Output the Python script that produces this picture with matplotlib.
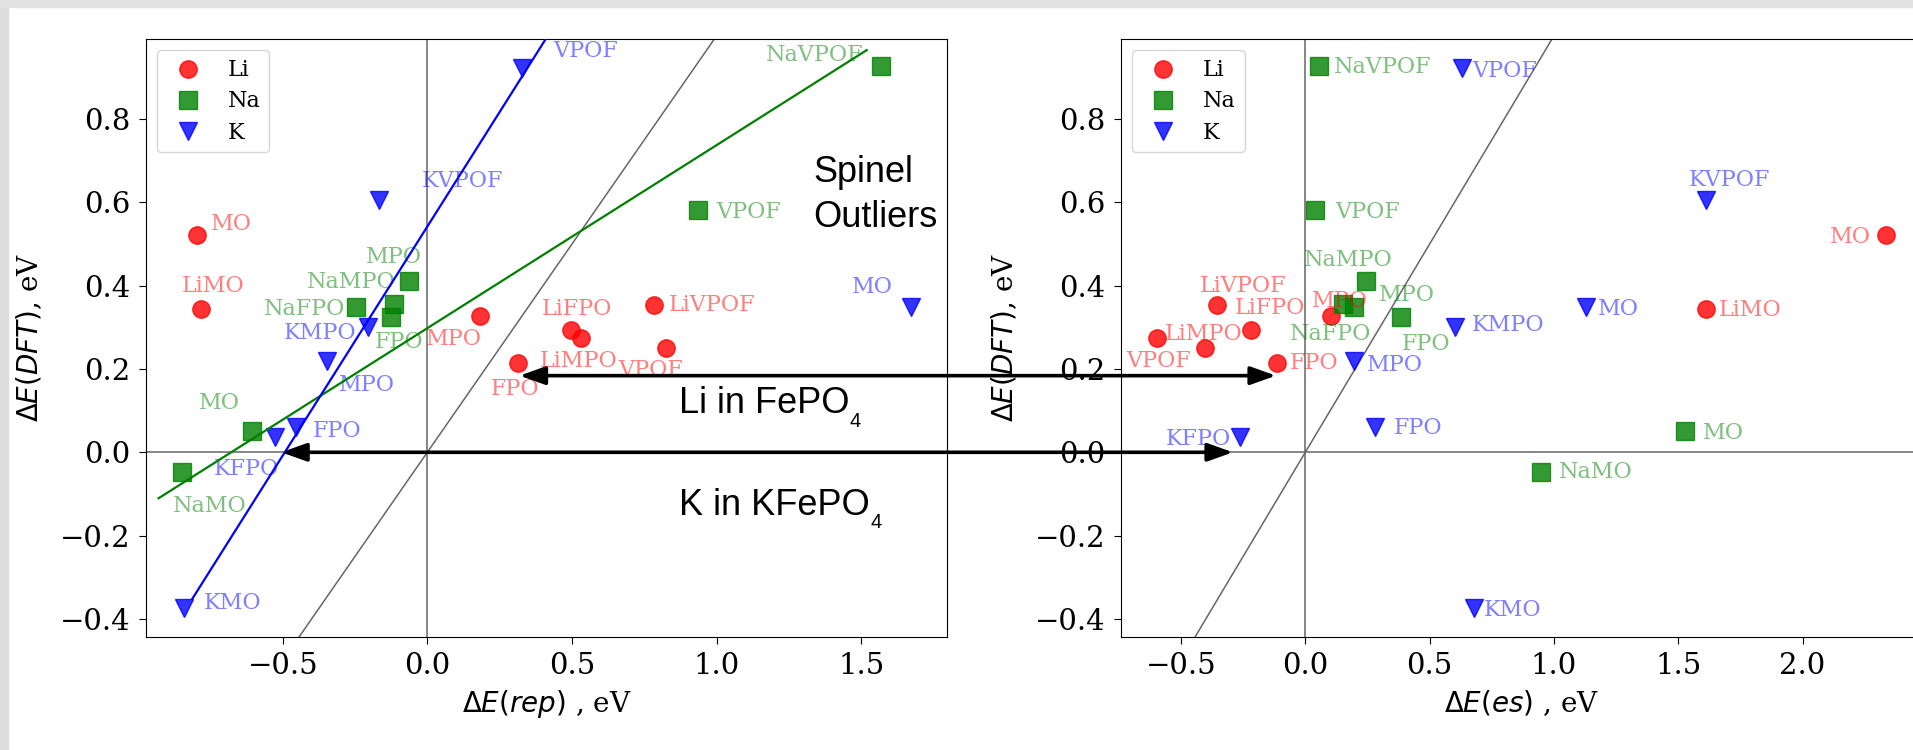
import numpy as np
import matplotlib
matplotlib.use("Agg")
import matplotlib.pyplot as plt
from matplotlib.patches import ConnectionPatch, Rectangle

# Li compounds: repulsion energy, electrostatic energy, DFT energy (eV)
li_names = ["MO", "LiMO", "MPO", "LiFPO", "LiMPO", "LiVPOF", "VPOF", "FPO"]
li_rep = [-0.796, -0.781, 0.182, 0.495, 0.530, 0.784, 0.824, 0.313]
li_es = [2.334, 1.610, 0.105, -0.220, -0.597, -0.354, -0.402, -0.115]
li_dft = [0.521, 0.343, 0.327, 0.294, 0.274, 0.354, 0.250, 0.214]

# Na compounds
na_names = ["NaVPOF", "VPOF", "NaMPO", "MPO", "NaFPO", "FPO", "MO", "NaMO"]
na_rep = [1.568, 0.935, -0.063, -0.114, -0.247, -0.125, -0.605, -0.847]
na_es = [0.054, 0.041, 0.245, 0.152, 0.196, 0.383, 1.527, 0.947]
na_dft = [0.927, 0.581, 0.411, 0.356, 0.350, 0.326, 0.050, -0.048]

# K compounds
k_names = ["VPOF", "KVPOF", "MO", "KMPO", "MPO", "FPO", "KFPO", "KMO"]
k_rep = [0.326, -0.167, 1.671, -0.204, -0.347, -0.453, -0.526, -0.842]
k_es = [0.631, 1.610, 1.129, 0.603, 0.196, 0.280, -0.262, 0.677]
k_dft = [0.922, 0.605, 0.350, 0.300, 0.218, 0.060, 0.036, -0.373]

# fitted lines on the rep panel (slope, intercept, x range)
na_fit = (0.4395, 0.298, [-0.929, 1.519])
k_fit = (1.10, 0.542, [-0.813, 0.6])

# arrows between the panels: (y, x on rep panel, x on es panel)
li_arrow = (0.184, 0.319, -0.118)
k_arrow = (0.0, -0.505, -0.291)

# label offsets in pixels (dx, dy) for each point
li_off_rep = [(14, 5), (-20, 17), (-54, -29), (-29, 15), (-41, -29), (15, -6), (-47, -28), (-27, -32)]
na_off_rep = [(-115, 5), (18, -8), (-102, -7), (-28, 41), (-92, -8), (-16, -31), (-53, 22), (-9, -40)]
k_off_rep = [(32, 11), (43, 13), (-59, 14), (-85, -12), (12, -30), (16, -10), (-61, -38), (20, -1)]

li_off_es = [(-56, -8), (13, -7), (-20, 9), (-16, 16), (8, -2), (-18, 13), (-79, -19), (13, -6)]
na_off_es = [(15, -7), (20, -8), (-62, 15), (36, 3), (-64, -33), (1, -33), (18, -8), (18, -6)]
k_off_es = [(10, -9), (-17, 14), (12, -8), (17, -4), (13, -10), (19, -7), (-74, -8), (10, -8)]

plt.rcParams["font.family"] = "DejaVu Serif"
plt.rcParams["mathtext.fontset"] = "dejavusans"

fig = plt.figure(figsize=(19.13, 7.5), dpi=100)

# light grey screenshot frame
fig.add_artist(Rectangle((0, 0), 8 / 1913, 1, transform=fig.transFigure, color="#dcdcdc", zorder=-5))
fig.add_artist(Rectangle((0, 1 - 7 / 750), 1, 7 / 750, transform=fig.transFigure, color="#e2e2e2", zorder=-5))

ax1 = fig.add_axes([0.0761, 0.1511, 0.4190, 0.7965])
ax2 = fig.add_axes([0.5859, 0.1511, 0.4190, 0.7965])

groups = [
    ("Li", "o", "red", li_names, li_rep, li_es, li_dft, li_off_rep, li_off_es),
    ("Na", "s", "green", na_names, na_rep, na_es, na_dft, na_off_rep, na_off_es),
    ("K", "v", "blue", k_names, k_rep, k_es, k_dft, k_off_rep, k_off_es),
]

for ax, which in [(ax1, "rep"), (ax2, "es")]:
    ax.axhline(0, color="0.4", lw=1.1, zorder=1)
    ax.axvline(0, color="0.4", lw=1.1, zorder=1)
    ax.plot([-1, 3], [-1, 3], color="0.4", lw=1.1, zorder=1)
    for label, mk, col, names, rep, es, dft, off_rep, off_es in groups:
        xs = rep if which == "rep" else es
        offs = off_rep if which == "rep" else off_es
        ax.plot(xs, dft, mk, color=col, alpha=0.8, markersize=12.5, ls="none", label=label, zorder=2)
        for name, x, y, (dx, dy) in zip(names, xs, dft, offs):
            ax.annotate(name, (x, y), xytext=(dx, dy), textcoords="offset pixels",
                        color=col, alpha=0.5, fontsize=16, ha="left", va="baseline", zorder=3)
    ax.set_ylim(-0.4427, 0.9916)
    ax.set_yticks([-0.4, -0.2, 0.0, 0.2, 0.4, 0.6, 0.8])
    ax.tick_params(labelsize=21, length=5, pad=6)
    ax.set_ylabel(r"$\Delta E(DFT)$, eV", fontsize=20)
    ax.yaxis.set_label_coords(-0.127, 0.5)
    ax.legend(loc="upper left", fontsize=16, labelspacing=0.41, handletextpad=0.8)

# fit lines
for (slope, icpt, xr), col in [(na_fit, "green"), (k_fit, "blue")]:
    xr = np.array(xr)
    ax1.plot(xr, slope * xr + icpt, color=col, lw=1.6, zorder=4)

ax1.set_xlim(-0.974, 1.797)
ax1.set_xticks([-0.5, 0.0, 0.5, 1.0, 1.5])
ax1.set_xlabel(r"$\Delta E(rep)$ , eV", fontsize=20, labelpad=6)

ax2.set_xlim(-0.742, 2.482)
ax2.set_xticks([-0.5, 0.0, 0.5, 1.0, 1.5, 2.0])
ax2.set_xlabel(r"$\Delta E(es)$ , eV", fontsize=20, labelpad=6)

# annotations
sans = "Liberation Sans"
ax1.text(1.334, 0.649, "Spinel", fontsize=26, family=sans)
ax1.text(1.334, 0.5417, "Outliers", fontsize=26, family=sans)
for y, txt in [(0.0936, "Li in FePO"), (-0.1505, "K in KFePO")]:
    t = ax1.text(0.870, y, txt, fontsize=26, family=sans)
    ax1.annotate("4", xy=(1, 0), xycoords=t, xytext=(0.3, -3.8), textcoords="offset points",
                 fontsize=14.5, family=sans, va="baseline", ha="left")

for y, xa, xb in [li_arrow, k_arrow]:
    con = ConnectionPatch(xyA=(xa, y), coordsA="data", axesA=ax1,
                          xyB=(xb, y), coordsB="data", axesB=ax2,
                          arrowstyle="<|-|>,head_length=1.4,head_width=0.5",
                          mutation_scale=11, lw=2.6, color="black", zorder=10)
    fig.add_artist(con)

fig.savefig("out.png", dpi=100)
